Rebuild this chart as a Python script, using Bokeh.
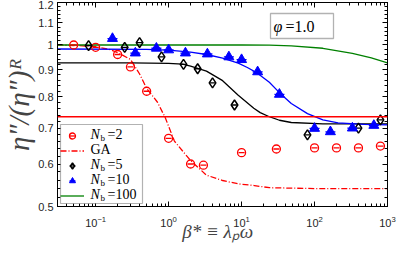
import math
from bokeh.plotting import figure
from bokeh.models import (LogAxis, FixedTicker, CustomJSTickFormatter, Label, Legend,
                          LegendItem, Range1d, Span, BoxAnnotation)
from bokeh.core.properties import value
from bokeh.embed import file_html
from bokeh.resources import INLINE

# ---------------- data ----------------
nb2_x = [0.05, 0.1, 0.2, 0.3, 0.5, 1, 2, 3, 10, 30, 100, 200, 400, 800]
nb2_y = [1.0, 0.99, 0.96, 0.91, 0.82, 0.67, 0.60, 0.597, 0.63, 0.64, 0.643, 0.643, 0.643, 0.648]

nb5_x = [0.08, 0.25, 0.4, 0.8, 1.6, 2.5, 4, 8, 80, 400, 800]
nb5_y = [0.997, 0.99, 1.01, 0.95, 0.92, 0.903, 0.85, 0.773, 0.68, 0.70, 0.725]

nb10_x = [0.17, 0.35, 0.68, 1.0, 1.7, 3.4, 6.7, 10, 16.6, 33, 100, 165, 330, 650]
nb10_y = [1.028, 0.966, 0.986, 0.979, 0.966, 0.962, 0.95, 0.939, 0.891, 0.809, 0.699, 0.689, 0.70, 0.708]

ga_x = [0.03, 0.06, 0.1, 0.16, 0.2, 0.3, 0.4, 0.5, 0.7, 0.9, 1.2, 2, 3.3, 5.5, 9, 15, 24, 100, 1000]
ga_y = [1.0, 0.997, 0.993, 0.98, 0.968, 0.94, 0.883, 0.83, 0.783, 0.732, 0.662, 0.609, 0.572,
        0.559, 0.551, 0.547, 0.542, 0.54, 0.54]

fit5_x = [0.03, 0.3, 1, 1.55, 2, 3.3, 5.5, 9, 14.7, 18, 24, 33, 48, 130, 1000]
fit5_y = [0.926, 0.926, 0.924, 0.921, 0.913, 0.894, 0.858, 0.806, 0.762, 0.748, 0.735, 0.724,
          0.717, 0.713, 0.713]

fit10_x = [0.03, 0.5, 1, 2, 3.3, 5.5, 9, 12, 16.5, 24, 33, 48, 80, 130, 210, 480, 1000]
fit10_y = [0.983, 0.981, 0.978, 0.97, 0.96, 0.945, 0.925, 0.908, 0.886, 0.852, 0.815, 0.778,
           0.745, 0.725, 0.716, 0.711, 0.71]

fit100_x = [0.03, 10, 24, 48, 130, 330, 600, 1000]
fit100_y = [1.0, 1.0, 0.999, 0.996, 0.986, 0.965, 0.946, 0.926]

nb2_level = 0.735

x_major = [0.1, 1, 10, 100, 1000]
x_minor = [m * 10.0 ** e for e in range(-2, 3) for m in range(2, 10) if m * 10.0 ** e >= 0.03]
y_major = [0.5, 0.6, 0.7, 0.8, 0.9, 1.0, 1.1, 1.2]
y_minor = [round(0.5 + 0.02 * i, 2) for i in range(36)]

legend_labels = [("N", "b", "=2"), ("GA", "", ""), ("N", "b", "=5"), ("N", "b", "=10"), ("N", "b", "=100")]
x_label = "β*  ≡  λₚω"
y_label = "η″/(η″)ᴿ"
phi_label = ("φ", "=1.0")

RED, BLACK, BLUE, GREEN = "#ff0000", "#000000", "#0000ff", "#008000"
SERIF = "Liberation Serif"
SANS = "Liberation Sans"

FRAME_H = 200
p = figure(width=399, height=244, x_axis_type="log", y_axis_type="log",
           x_range=Range1d(0.03, 1000), y_range=Range1d(0.5, 1.2),
           output_backend="svg", toolbar_location=None,
           min_border_left=49, min_border_right=12, min_border_top=2, min_border_bottom=0)
p.xgrid.visible = False
p.ygrid.visible = False
p.outline_line_color = "black"
p.outline_line_alpha = 1.0
p.outline_line_width = 1
p.background_fill_color = "white"
p.border_fill_color = "white"

def style_axis(ax, labels=True):
    ax.major_tick_in = 5
    ax.major_tick_out = 0
    ax.minor_tick_in = 3
    ax.minor_tick_out = 0
    ax.axis_line_color = "black"
    ax.major_tick_line_color = "black"
    ax.minor_tick_line_color = "black"
    ax.major_label_text_font = SANS
    ax.major_label_text_font_size = "11px"
    ax.major_label_text_color = "#262626"
    if not labels:
        ax.formatter = CustomJSTickFormatter(code="return '';")
        ax.major_label_standoff = 0
        ax.major_label_text_font_size = "0px"
        ax.axis_label_standoff = 0

xt = FixedTicker(ticks=x_major, minor_ticks=x_minor)
yt = FixedTicker(ticks=y_major, minor_ticks=y_minor)
yfmt = CustomJSTickFormatter(code="return Math.abs(tick-1)<1e-9 ? '1' : tick.toFixed(1);")

xa = p.xaxis[0]
xa.ticker = xt
style_axis(xa)
xa.major_label_standoff = 9
xa.axis_label = x_label
xa.axis_label_text_font = SERIF
xa.axis_label_text_font_size = "19px"
xa.axis_label_text_font_style = "italic"
xa.axis_label_standoff = -9

ya = p.yaxis[0]
ya.ticker = yt
ya.formatter = yfmt
style_axis(ya)
ya.major_label_standoff = 4
ya.axis_label = y_label
ya.axis_label_text_font = SERIF
ya.axis_label_text_font_size = "29px"
ya.axis_label_text_font_style = "italic"
ya.axis_label_standoff = 0

top = LogAxis(ticker=xt)
style_axis(top, labels=False)
p.add_layout(top, "above")
right = LogAxis(ticker=yt)
style_axis(right, labels=False)
p.add_layout(right, "right")

# ---------------- curves ----------------
p.add_layout(Span(location=nb2_level, dimension="width", line_color=RED, line_width=1.3))
r_ga = p.line(ga_x, ga_y, line_color=RED, line_width=1.3, line_dash="6 2 1 2")
p.line(fit5_x, fit5_y, line_color=BLACK, line_width=1.3)
p.line(fit10_x, fit10_y, line_color=BLUE, line_width=1.3)
r_100 = p.line(fit100_x, fit100_y, line_color=GREEN, line_width=1.3)

# ---------------- data points ----------------
r2a = p.scatter(nb2_x, nb2_y, marker="circle", size=8, fill_color=None, line_color=RED, line_width=1.3)
r2b = p.scatter(nb2_x, nb2_y, marker="dash", size=6, line_color=RED, line_width=1.3)
r5a = p.scatter(nb5_x, nb5_y, marker="diamond", size=10, fill_color=None, line_color=BLACK, line_width=1.5)
r5b = p.scatter(nb5_x, nb5_y, marker="dash", size=6, line_color=BLACK, line_width=1.3)
r10a = p.scatter(nb10_x, nb10_y, marker="triangle", size=10, fill_color=BLUE, line_color=BLUE, line_width=1)
r10b = p.scatter(nb10_x, nb10_y, marker="dash", size=10, line_color=BLUE, line_width=1.3)

# legend frame (drawn under a transparent Bokeh legend that supplies the glyph samples)
ITEM_H = 15
LEG_L, LEG_B, LEG_W = 3, 3, 82
LEG_H = 4 + 5 * ITEM_H
p.add_layout(BoxAnnotation(left=LEG_L, right=LEG_L + LEG_W, bottom=LEG_B, top=LEG_B + LEG_H,
                           left_units="screen", right_units="screen", top_units="screen", bottom_units="screen",
                           fill_color="white", fill_alpha=1.0, line_color="black", line_width=1.2,
                           level="annotation"))

items = [LegendItem(label=" ", renderers=[r2a, r2b]),
         LegendItem(label=" ", renderers=[r_ga]),
         LegendItem(label=" ", renderers=[r5a, r5b]),
         LegendItem(label=" ", renderers=[r10a, r10b]),
         LegendItem(label=" ", renderers=[r_100])]
leg = Legend(items=items, location="bottom_left", padding=2, spacing=0, margin=3,
             glyph_width=24, glyph_height=ITEM_H, label_height=ITEM_H, label_width=0,
             label_standoff=0, border_line_color=None, border_line_alpha=0,
             background_fill_alpha=0.0, label_text_font_size="9px")
p.add_layout(leg)

# legend texts
for i, (a, b, c) in enumerate(legend_labels):
    cy = LEG_B + LEG_H - 2 - ITEM_H / 2 - ITEM_H * i
    x0 = LEG_L + 30
    p.add_layout(Label(x=x0, y=cy, x_units="screen", y_units="screen", text=a, level="overlay",
                       text_font=SERIF, text_font_size="14px",
                       text_font_style="italic" if b else "normal",
                       text_baseline="middle", text_align="left", text_color="black"))
    if b:
        p.add_layout(Label(x=x0 + 10, y=cy - 4, x_units="screen", y_units="screen", text=b,
                           level="overlay",
                           text_font=SERIF, text_font_size="9px", text_baseline="middle",
                           text_align="left", text_color="black"))
        p.add_layout(Label(x=x0 + 17, y=cy, x_units="screen", y_units="screen", text=c,
                           level="overlay",
                           text_font=SERIF, text_font_size="14px", text_baseline="middle",
                           text_align="left", text_color="black"))

# phi box
PHI_L, PHI_T = 213, FRAME_H - 7
p.add_layout(BoxAnnotation(left=PHI_L, right=PHI_L + 63, top=PHI_T, bottom=PHI_T - 25,
                           left_units="screen", right_units="screen", top_units="screen", bottom_units="screen",
                           fill_color="white", fill_alpha=1.0, line_color="black", line_width=1.3,
                           level="overlay"))
p.add_layout(Label(x=PHI_L + 3, y=PHI_T - 12.5, x_units="screen", y_units="screen", text=phi_label[0],
                   level="overlay", text_font=SERIF, text_font_size="16px", text_font_style="italic",
                   text_baseline="middle", text_color="black"))
p.add_layout(Label(x=PHI_L + 15, y=PHI_T - 12.5, x_units="screen", y_units="screen", text=phi_label[1],
                   level="overlay", text_font=SERIF, text_font_size="16px",
                   text_baseline="middle", text_color="black"))

open("out.html", "w").write(file_html(p, INLINE))
